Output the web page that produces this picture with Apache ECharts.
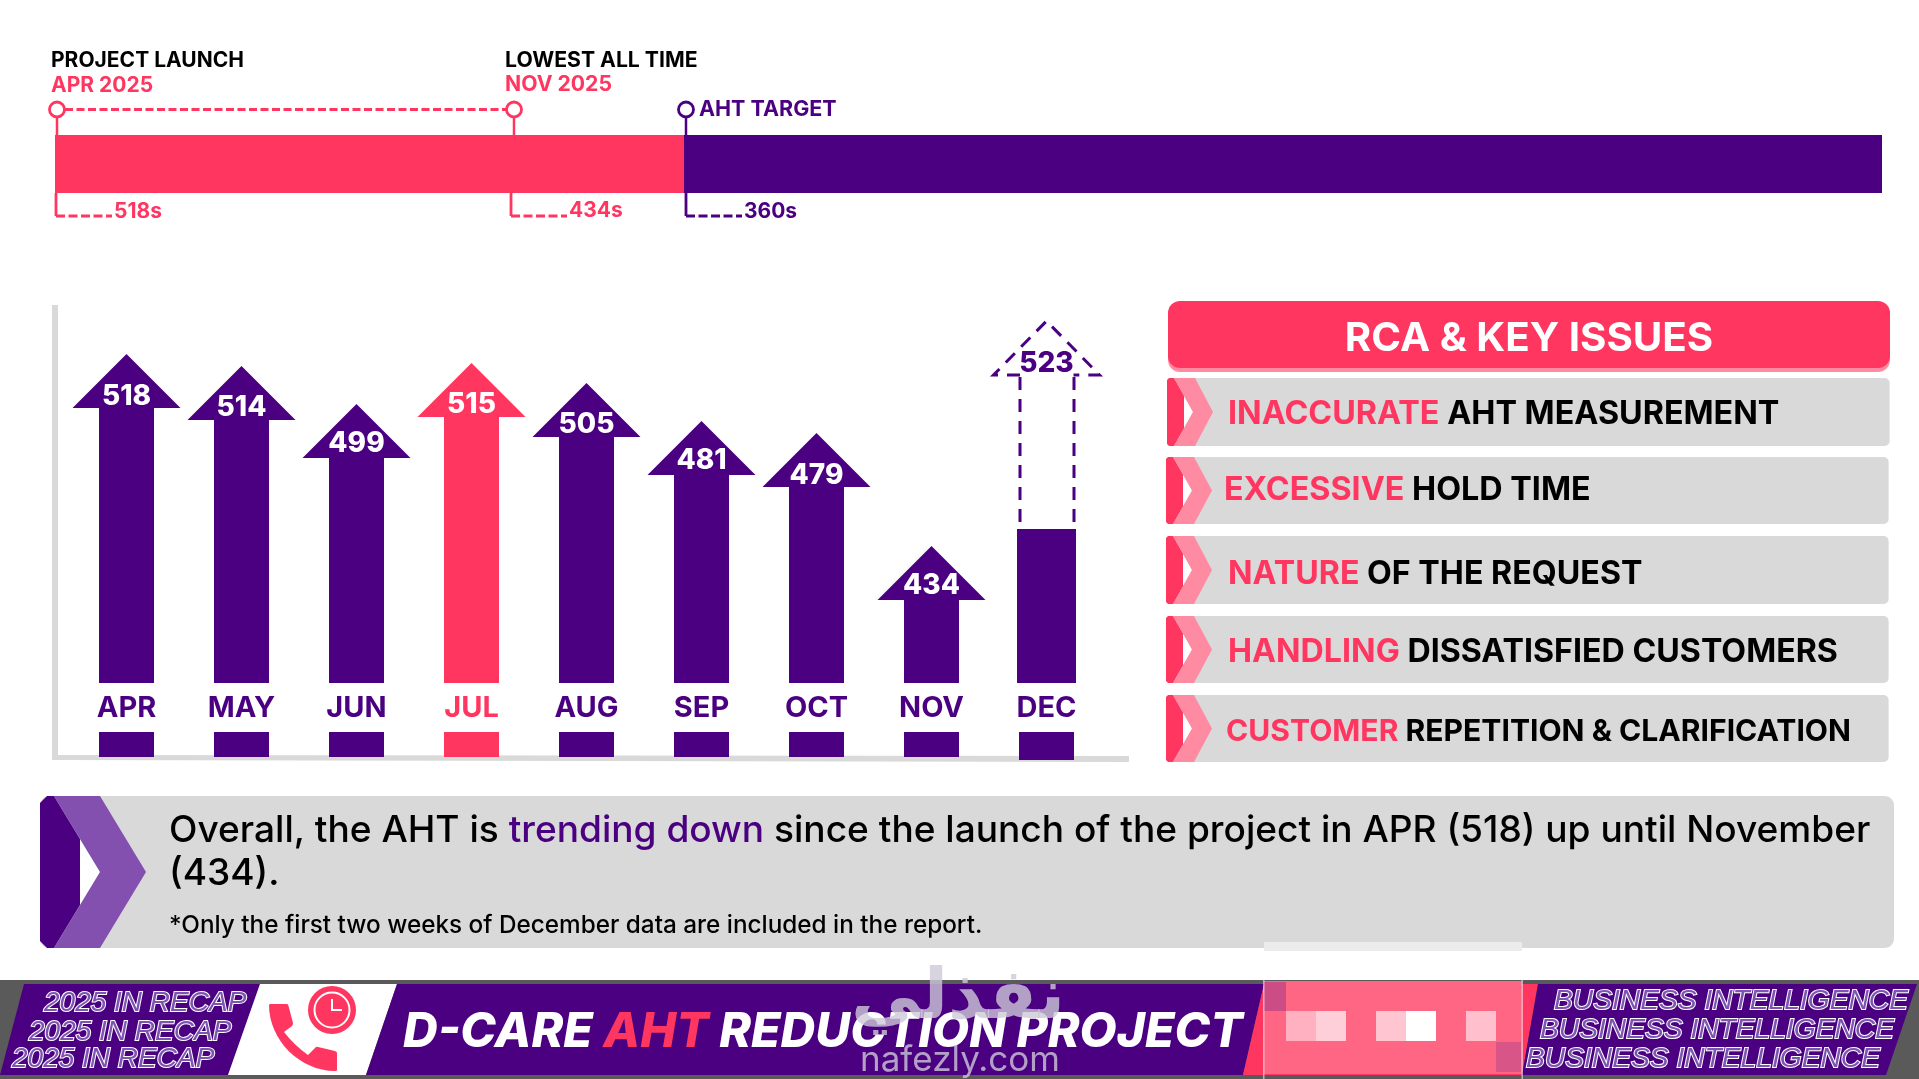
<!DOCTYPE html>
<html>
<head>
<meta charset="utf-8">
<title>D-CARE AHT Reduction Project</title>
<script src="https://cdn.jsdelivr.net/npm/echarts@6/dist/echarts.min.js"></script>
<style>html,body{margin:0;padding:0;background:#fff}#c{width:1919px;height:1079px}</style>
</head>
<body>
<div id="c"></div>
<script>
// ---- data ----
const months = ['APR','MAY','JUN','JUL','AUG','SEP','OCT','NOV','DEC'];
const ahtSeconds = [518,514,499,515,505,481,479,434,523];
const arrowHeights = [329,317,279,320,300,262,250,137,362];   // drawn height of each arrow
const solidDecHeight = 154;                                   // filled part of the December arrow
const stubHeights = [25,25,25,25,25,25,25,25,28];
const highlightMonth = 'JUL';
const partialMonth = 'DEC';

const trackPink = [629];
const trackPurple = [1198];
const markerOffsets = [2,459,631];
const markerLabels = ['518s','434s','360s'];

const issues = [
  ['INACCURATE','AHT MEASUREMENT'],
  ['EXCESSIVE','HOLD TIME'],
  ['NATURE','OF THE REQUEST'],
  ['HANDLING','DISSATISFIED CUSTOMERS'],
  ['CUSTOMER','REPETITION & CLARIFICATION']
];

// ---- palette and layout tweaks ----
const PINK='#ff3660', PURPLE='#4b0082', GRAY='#d9d9d9', LPINK='#ff8ba3', LPURPLE='#8450b0';
const FONT='Inter';
const labelLift=[11,12,14,12,12,14,11,14,11];

const chart = echarts.init(document.getElementById('c'), null, {renderer:'canvas'});

function poly(points, fill, z){ return {type:'polygon', z:z==null?1:z, silent:true, shape:{points}, style:{fill}}; }
function rect(x,y,w,h,fill,r,z){ return {type:'rect', z:z==null?1:z, silent:true, shape:{x,y,width:w,height:h,r:r||0}, style:{fill}}; }
function txt(x,y,text,o){
  o=o||{};
  return {type:'text', z:o.z==null?5:o.z, silent:true, x, y, style:{
    text, fill:o.fill||'#000', align:o.align||'left', verticalAlign:'middle',
    font:(o.style?o.style+' ':'')+(o.weight||700)+' '+(o.size||20)+'px '+(o.family||FONT),
    stroke:o.stroke, lineWidth:o.lineWidth||0
  }};
}
function richFont(size,weight,color,style){
  return {fill:color, fontFamily:FONT, fontSize:size, fontWeight:weight, fontStyle:style||'normal'};
}

const g = [];
// frame of the bar chart
g.push(rect(52,305,6,455,GRAY));
g.push(poly([[52,755],[1129,756],[1129,762],[52,760]],GRAY));
// milestone captions
g.push(txt(51,61,'PROJECT LAUNCH',{size:21}));
g.push(txt(51,86,'APR 2025',{size:21,fill:PINK}));
g.push(txt(505,61,'LOWEST ALL TIME',{size:21.2}));
g.push(txt(505,85,'NOV 2025',{size:21.2,fill:PINK}));
g.push(txt(699,110,'AHT TARGET',{size:21.5,fill:PURPLE}));

// RCA panel
g.push(rect(1168,304,722,68,LPINK,12));
g.push(rect(1168,301,722,67,PINK,12));
g.push(txt(1529,339,'RCA & KEY ISSUES',{size:40.3,fill:'#fff',align:'center'}));
const rows=[[378,446,1167,1889.6,1228,414,32.3],[457,524,1166,1888.6,1224,490,32.3],[536,604,1166,1888.6,1228,574,32.2],[616,683,1166,1888.6,1228,652,32.2],[695,762,1166,1888.6,1226,732,30.1]];
rows.forEach((r,i)=>{
  const [t,b,l,rgt,tx,ty,fs]=r, m=(t+b)/2;
  g.push(rect(l,t,rgt-l,b-t,GRAY,5));
  g.push(poly([[l+2,t],[l+7,t],[l+17,t+17.6],[l+17,b-17.6],[l+7,b],[l+2,b],[l,b-2],[l,t+2]],PINK,2));
  g.push(poly([[l+17,m-16],[l+26,m],[l+17,m+16]],'#fff',2));
  g.push(poly([[l+7,t],[l+28,t],[l+46,m],[l+28,b],[l+7,b],[l+26,m]],LPINK,2));
  g.push({type:'text',z:5,silent:true,x:tx,y:ty,style:{
    text:'{a|'+issues[i][0]+'}{b| '+issues[i][1]+'}',verticalAlign:'middle',align:'left',
    rich:{a:richFont(fs,700,PINK),b:richFont(fs,700,'#000')}
  }});
});

// summary panel
g.push(rect(40,796,1854,152,GRAY,9));
g.push(poly([[47,796],[54,796],[80,839],[80,905],[54,948],[47,948],[40,941],[40,803]],PURPLE,2));
g.push(poly([[80,839],[100,872],[80,905]],'#fff',2));
g.push(poly([[54,796],[100,796],[146,872],[100,948],[54,948],[100,872]],LPURPLE,2));
g.push({type:'text',z:5,silent:true,x:169,y:831,style:{
  text:'{a|Overall, the AHT is }{b|trending down}{a| since the launch of the project in APR (518) up until November}',
  verticalAlign:'middle',align:'left',
  rich:{a:richFont(37.1,500,'#000'),b:richFont(37.1,500,PURPLE)}
}});
g.push(txt(169,874,'(434).',{size:37.1,weight:500}));
g.push(txt(169,926,'*Only the first two weeks of December data are included in the report.',{size:24.3,weight:500}));

// footer
g.push(rect(0,980,1919,99,'#5a5a5a'));
g.push(poly([[24,984],[260,984],[228,1075],[0,1075]],PURPLE,2));
g.push(poly([[260,984],[397,984],[366,1075],[228,1075]],'#fff',2));
g.push(poly([[397,984],[1264,984],[1243,1075],[366,1075]],PURPLE,2));
g.push(poly([[1264,984],[1538,984],[1522,1075],[1243,1075]],PINK,2));
g.push(poly([[1538,984],[1917,984],[1886,1075],[1522,1075]],PURPLE,2));
const outline={style:'italic',weight:400,family:'Liberation Sans',fill:'#7c55b0',stroke:'#fff',lineWidth:2};
[[44,1003],[29,1032],[12,1059]].forEach(p=>g.push(txt(p[0],p[1],'2025 IN RECAP',Object.assign({size:28},outline))));
[[1554,1001],[1540,1030],[1526,1059]].forEach(p=>g.push(txt(p[0],p[1],'BUSINESS INTELLIGENCE',Object.assign({size:28.2},outline))));
g.push({type:'text',z:5,silent:true,x:403,y:1033,style:{
  text:'{a|D-CARE }{b|AHT}{a| REDUCTION PROJECT}',verticalAlign:'middle',align:'left',
  rich:{a:richFont(48,800,'#fff','italic'),b:richFont(48,800,PINK,'italic')}
}});

// mosaic block
g.push(rect(1264,942,258,9,'#ececec',0,6));
g.push(rect(1264,981,258,93,'#ff6683',0,6));
g.push(rect(1264,982,22,29,'#cc4d85',0,6));
g.push(rect(1496,1042,25,30,'#d85588',0,6));
g.push(rect(1286,1011,30,30,'#ffb0c1',0,6));
g.push(rect(1316,1011,30,30,'#ffcfd9',0,6));
g.push(rect(1376,1011,30,30,'#ffc6d2',0,6));
g.push(rect(1406,1011,30,30,'#ffffff',0,6));
g.push(rect(1466,1011,30,30,'#ffbfcc',0,6));
g.push(rect(1263,980,1.5,99,'rgba(255,255,255,0.55)',0,6));
g.push(rect(1521.5,980,1.5,99,'rgba(255,255,255,0.55)',0,6));

// watermark
g.push(txt(958,1000,'نفذلي',{size:70,family:'DejaVu Sans',align:'center',fill:'rgba(205,200,215,0.8)',z:8}));
g.push(txt(960,1060,'nafezly.com',{size:35,weight:400,align:'center',fill:'rgba(205,200,215,0.8)',z:8}));

const option = {
  backgroundColor:'#fff',
  animation:false,
  grid:[
    {left:69,width:1035,top:283,height:400},
    {left:69,width:1035,top:732,height:28},
    {left:55,width:1827,top:135,height:58}
  ],
  xAxis:[
    {gridIndex:0,type:'category',data:months,axisLine:{show:false},axisTick:{show:false},
     axisLabel:{margin:11,fontFamily:FONT,fontWeight:700,fontSize:29,interval:0,
       color:(v)=>v===highlightMonth?PINK:PURPLE}},
    {gridIndex:1,type:'category',data:months,show:false},
    {gridIndex:2,type:'value',min:0,max:1827,show:false}
  ],
  yAxis:[
    {gridIndex:0,type:'value',min:0,max:400,show:false},
    {gridIndex:1,type:'value',min:0,max:28,show:false,inverse:true},
    {gridIndex:2,type:'category',data:['AHT'],show:false}
  ],
  series:[
    {name:'Month stubs',type:'bar',xAxisIndex:1,yAxisIndex:1,barWidth:55,silent:true,
     data:stubHeights.map((v,i)=>({value:v,itemStyle:{color:months[i]===highlightMonth?PINK:PURPLE}}))},
    {name:'AHT arrows',type:'custom',xAxisIndex:0,yAxisIndex:0,silent:true,
     data:months.map((m,i)=>[i,arrowHeights[i],ahtSeconds[i],m===partialMonth?solidDecHeight:0]),
     renderItem:function(params,api){
       const top=api.coord([api.value(0),api.value(1)]);
       const base=api.coord([api.value(0),0]);
       const x=top[0], headH=54, sw=27.5, hw=54;
       const solid=api.value(3);
       const idx=api.value(0);
       const color=months[idx]===highlightMonth?PINK:PURPLE;
       const baseY=top[1]+headH;
       const font='800 28px '+FONT;
       if(solid){
         const sTop=api.coord([api.value(0),solid])[1];
         const dash={stroke:PURPLE,lineWidth:3,lineDash:[13,9],fill:'none'};
         const hx=53;
         return {type:'group',children:[
           {type:'rect',shape:{x:x-29.5,y:sTop,width:59,height:base[1]-sTop},style:{fill:PURPLE}},
           {type:'polyline',shape:{points:[[x-26.5,baseY],[x-hx,baseY],[x,top[1]],[x+hx,baseY],[x+27,baseY]]},style:dash},
           {type:'line',shape:{x1:x-26.5,y1:baseY+2,x2:x-26.5,y2:sTop},style:dash},
           {type:'line',shape:{x1:x+27.5,y1:baseY+2,x2:x+27.5,y2:sTop},style:dash},
           {type:'text',style:{text:String(api.value(2)),x:x,y:baseY-labelLift[idx],align:'center',verticalAlign:'middle',fill:PURPLE,font}}
         ]};
       }
       return {type:'group',children:[
         {type:'polygon',shape:{points:[[x,top[1]],[x+hw,baseY],[x+sw,baseY],[x+sw,base[1]],[x-sw,base[1]],[x-sw,baseY],[x-hw,baseY]]},style:{fill:color}},
         {type:'text',style:{text:String(api.value(2)),x:x,y:baseY-labelLift[idx],align:'center',verticalAlign:'middle',fill:'#fff',font}}
       ]};
     }},
    {name:'Above target',type:'bar',xAxisIndex:2,yAxisIndex:2,stack:'track',barWidth:58,silent:true,data:trackPink,itemStyle:{color:PINK}},
    {name:'Below target',type:'bar',xAxisIndex:2,yAxisIndex:2,stack:'track',barWidth:58,silent:true,data:trackPurple,itemStyle:{color:PURPLE}},
    {name:'Milestones',type:'custom',xAxisIndex:2,yAxisIndex:2,silent:true,z:4,
     data:markerOffsets.map((v,i)=>[v,0,i]),
     renderItem:function(params,api){
       const i=api.value(2);
       const c=api.coord([api.value(0),0]);
       const x=c[0], barT=params.coordSys.y, barB=barT+params.coordSys.height;
       const col=i===2?PURPLE:PINK;
       const cy=barT-25.5, dy=barB+23, lx=i===1?x-3:(i===0?x-1:x);
       const ly=i===1?dy-5:dy-4;
       const kids=[
         {type:'line',shape:{x1:x,y1:cy+8,x2:x,y2:barT},style:{stroke:col,lineWidth:2.5}},
         {type:'circle',shape:{cx:x,cy:cy,r:7.5},style:{fill:'#fff',stroke:col,lineWidth:2.8}},
         {type:'line',shape:{x1:lx,y1:barB,x2:lx,y2:dy},style:{stroke:col,lineWidth:2.8}},
         {type:'line',shape:{x1:lx,y1:dy,x2:lx+56,y2:dy},style:{stroke:col,lineWidth:2.8,lineDash:[9,3.5]}},
         {type:'text',style:{text:markerLabels[i],x:lx+58,y:ly,align:'left',verticalAlign:'middle',fill:col,font:'700 21px '+FONT}}
       ];
       if(i===0){
         const nx=api.coord([markerOffsets[1],0])[0];
         kids.push({type:'line',shape:{x1:x+8,y1:cy,x2:nx-8,y2:cy},style:{stroke:PINK,lineWidth:2.8,lineDash:[8,3.5]}});
       }
       return {type:'group',children:kids};
     }},
    {name:'Phone icon',type:'custom',coordinateSystem:'none',silent:true,z:4,data:[0],
     renderItem:function(){
       return {type:'group',children:[
         {type:'path',shape:{pathData:'M269 1005 Q269 1004 271 1004 L287 1004 Q288 1004 288.5 1006 L293 1023 Q293 1025 292 1026 L284 1032 Q294 1045 308 1055 L316 1047 Q317 1046.5 318 1047 L335 1051 Q337 1052 337 1053 L337 1070 Q337 1071 335 1071 C300 1071 269 1040 269 1005 Z'},style:{fill:PINK}},
         {type:'circle',shape:{cx:332,cy:1010,r:24},style:{fill:PINK}},
         {type:'circle',shape:{cx:332,cy:1010,r:17.5},style:{fill:PINK,stroke:'#fff',lineWidth:2}},
         {type:'polyline',shape:{points:[[332,999],[332,1010],[342,1010]]},style:{fill:'none',stroke:'#fff',lineWidth:2}}
       ]};
     }}
  ],
  graphic:{elements:g}
};
chart.setOption(option);
</script>
</body>
</html>
